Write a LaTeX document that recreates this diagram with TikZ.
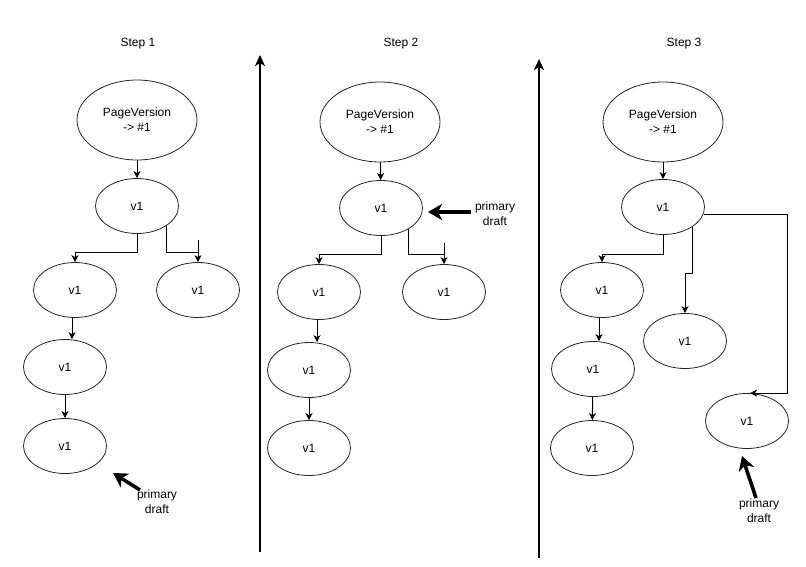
\documentclass[tikz,border=0pt]{standalone}
\usepackage{fontspec}
\setmainfont{Liberation Sans}
\usetikzlibrary{arrows.meta,calc,shapes.geometric}
\begin{document}
\begin{tikzpicture}[x=1pt,y=-1pt,
  every node/.style={font=\fontsize{12}{15}\selectfont},
  ell/.style={draw=black!85, ellipse, inner sep=0pt, minimum width=83pt, minimum height=55pt, line width=0.8pt, align=center},
  pv/.style={ell, minimum width=120pt, minimum height=80pt},
  edge/.style={draw=black, line width=1pt, -{Stealth[length=7pt,width=7pt,inset=2pt]}},
  plain/.style={draw=black, line width=1pt},
  bigarrow/.style={draw=black, line width=3.5pt, -{Stealth[length=14pt,width=16pt,inset=4pt]}},
  divider/.style={draw=black, line width=2pt, -{Stealth[length=11pt,width=10pt,inset=3pt]}},
  lbl/.style={align=center, inner sep=0pt}
]
\useasboundingbox (0,0) rectangle (806,566);
\fill[white] (0,0) rectangle (806,566);

% ---------- Step 1 ----------
\node[lbl] (t1) at (138,44) {Step 1};
\node[pv] (a1) at (137,120) {PageVersion\\-> \#1};
\node[ell] (b1) at (137,206) {v1};
\node[ell] (c1) at (75,290) {v1};
\node[ell] (d1) at (198,290) {v1};
\node[ell] (e1) at (65,367) {v1};
\node[ell] (f1) at (65,446) {v1};
\draw[edge] (a1) -- (b1);
\draw[edge] (b1.south) |- ([yshift=10pt]c1.north) -- (c1.north);
\draw[edge] (b1.-34) |- ([yshift=10pt]d1.north) -- (d1.north);
\draw[plain] ([yshift=22pt]d1.north) -- ([yshift=10pt]d1.north);
\draw[edge] ([xshift=-3pt]c1.south) -- ([xshift=7pt]e1.north);
\draw[edge] (e1) -- (f1);
\coordinate (p1t) at (140,490);
\node[lbl] (p1) at (157,502) {primary\\draft};
\draw[bigarrow] (p1t) -- (113,473);

% divider 1
\coordinate (dv1b) at (260,552);
\coordinate (dv1t) at (260,55);
\draw[divider] (dv1b) -- (dv1t);

% ---------- Step 2 ----------
\node[lbl] (t2) at (401,44) {Step 2};
\node[pv] (a2) at (380,122) {PageVersion\\-> \#1};
\node[ell] (b2) at (381,208) {v1};
\node[ell] (c2) at (319,292) {v1};
\node[ell] (d2) at (444,292) {v1};
\node[ell] (e2) at (309,370) {v1};
\node[ell] (f2) at (309,448) {v1};
\draw[edge] (a2) -- (b2);
\draw[edge] (b2.south) |- ([yshift=10pt]c2.north) -- (c2.north);
\draw[edge] (b2.-38) |- ([yshift=10pt]d2.north) -- (d2.north);
\draw[plain] ([yshift=21pt]d2.north) -- ([yshift=10pt]d2.north);
\draw[edge] ([xshift=-2pt]c2.south) -- ([xshift=8pt]e2.north);
\draw[edge] (e2) -- (f2);
\coordinate (p2t) at (471,212);
\node[lbl] (p2) at (495,214) {primary\\draft};
\draw[bigarrow] (p2t) -- (428,212);

% divider 2
\coordinate (dv2b) at (539,558);
\coordinate (dv2t) at (539,59);
\draw[divider] (dv2b) -- (dv2t);

% ---------- Step 3 ----------
\node[lbl] (t3) at (684,44) {Step 3};
\node[pv] (a3) at (663,122) {PageVersion\\-> \#1};
\node[ell] (b3) at (663,207) {v1};
\node[ell] (c3) at (602,290) {v1};
\node[ell] (m3) at (685,341) {v1};
\node[ell] (r3) at (747,421) {v1};
\node[ell] (e3) at (593,369) {v1};
\node[ell] (f3) at (592,448) {v1};
\draw[edge] (a3) -- (b3);
\draw[edge] (b3.south) |- ([yshift=8pt]c3.north) -- (c3.north);
\draw[edge] (b3.-34) -- ++(0,47) -| (m3.north);
\draw[edge] (b3.-10) -- ++(84,0) |- ([xshift=3pt]r3.north);
\draw[edge] ([xshift=-3pt]c3.south) -- ([xshift=6pt]e3.north);
\draw[edge] (e3) -- (f3);
\coordinate (p3t) at (756,498);
\node[lbl] (p3) at (759,511) {primary\\draft};
\draw[bigarrow] (p3t) -- (742,456);
\end{tikzpicture}
\end{document}
